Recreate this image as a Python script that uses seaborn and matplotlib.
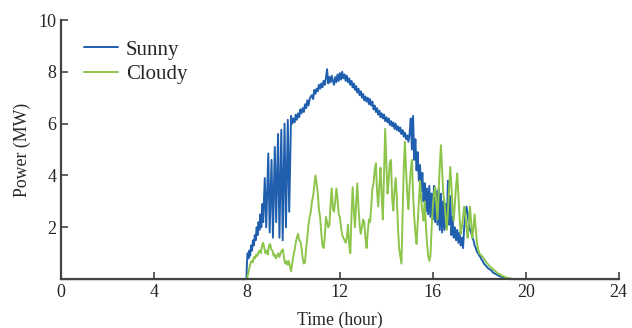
import pandas as pd
import matplotlib.pyplot as plt
import seaborn as sns

sns.set_style("ticks")
plt.rcParams["font.family"] = ["Liberation Serif", "DejaVu Serif"]

# data (hour, MW)
sunny_hours = [0, 7.98, 8.0, 8.03, 8.07, 8.1, 8.14, 8.18, 8.22, 8.26, 8.3, 8.34, 8.38, 8.42, 8.46,
               8.5, 8.54, 8.58, 8.62, 8.66, 8.7, 8.77, 8.83, 8.92, 8.98, 9.06, 9.12, 9.2, 9.26,
               9.34, 9.4, 9.48, 9.54, 9.62, 9.68, 9.76, 9.82, 9.9, 9.95,
               10.0, 10.05, 10.1, 10.15, 10.2, 10.25, 10.3, 10.35, 10.4, 10.45, 10.5, 10.55,
               10.6, 10.65, 10.7, 10.75, 10.8, 10.85, 10.9, 10.95, 11.0, 11.05, 11.1, 11.15,
               11.2, 11.25, 11.3, 11.35, 11.4, 11.45, 11.5, 11.55, 11.6, 11.65, 11.7, 11.75,
               11.8, 11.85, 11.9, 11.95, 12.0, 12.05, 12.1, 12.15, 12.2, 12.25, 12.3, 12.35,
               12.4, 12.45, 12.5, 12.55, 12.6, 12.65, 12.7, 12.75, 12.8, 12.85, 12.9, 12.95,
               13.0, 13.05, 13.1, 13.15, 13.2, 13.25, 13.3, 13.35, 13.4, 13.45, 13.5, 13.55,
               13.6, 13.65, 13.7, 13.75, 13.8, 13.85, 13.9, 13.95, 14.0, 14.05, 14.1, 14.15,
               14.2, 14.25, 14.3, 14.35, 14.4, 14.45, 14.5, 14.55, 14.6, 14.65, 14.7, 14.75,
               14.8, 14.85, 14.9, 14.95, 15.0, 15.05, 15.1, 15.15, 15.2, 15.25, 15.3, 15.35,
               15.4, 15.45, 15.5, 15.55, 15.6, 15.65, 15.7, 15.75, 15.8, 15.85, 15.9, 15.95,
               16.0, 16.05, 16.1, 16.15, 16.2, 16.25, 16.3, 16.35, 16.4, 16.45, 16.5, 16.55,
               16.6, 16.65, 16.7, 16.75, 16.8, 16.85, 16.9, 16.95, 17.0, 17.05, 17.1, 17.15,
               17.2, 17.25, 17.3, 17.35, 17.4, 17.45, 17.5, 17.55, 17.6, 17.65, 17.7, 17.75,
               17.8, 17.85, 17.9, 17.95, 18.0, 18.05, 18.1, 18.15, 18.2, 18.3, 18.4, 18.5,
               18.6, 18.7, 18.8, 18.9, 19.0, 19.1, 19.2, 19.3, 24]
sunny_mw = [0, 0, 0.6, 1.0, 0.8, 1.1, 0.9, 1.3, 1.1, 1.5, 1.3, 1.7, 1.5, 2.0, 1.7,
            2.2, 1.9, 2.5, 2.0, 2.9, 2.2, 3.9, 2.0, 4.85, 1.8, 4.6, 1.6, 5.1, 2.2,
            5.6, 1.6, 5.76, 1.5, 6.0, 2.0, 6.15, 2.6, 6.3, 6.0,
            6.2, 6.05, 6.35, 6.15, 6.4, 6.25, 6.55, 6.4, 6.6, 6.45, 6.75, 6.6,
            6.9, 6.7, 6.95, 7.05, 7.1, 6.95, 7.3, 7.15, 7.35, 7.25, 7.5, 7.35,
            7.55, 7.4, 7.65, 7.5, 7.75, 8.1, 7.55, 7.8, 7.6, 7.85, 7.65, 7.5,
            7.8, 7.6, 7.9, 7.65, 7.95, 7.7, 8.0, 7.75, 7.9, 7.65, 7.85, 7.6,
            7.75, 7.5, 7.65, 7.4, 7.55, 7.3, 7.45, 7.2, 7.35, 7.1, 7.25, 7.0,
            7.15, 6.9, 7.05, 6.85, 7.0, 6.75, 6.95, 6.7, 6.85, 6.55, 6.7, 6.45,
            6.6, 6.35, 6.5, 6.25, 6.4, 6.2, 6.35, 6.1, 6.25, 6.05, 6.2, 5.95,
            6.1, 5.9, 6.05, 5.8, 6.0, 5.75, 5.9, 5.7, 5.85, 5.6, 5.75, 5.5,
            5.65, 5.4, 5.55, 5.3, 5.6, 6.2, 5.0, 6.3, 4.6, 5.4, 4.2, 4.9,
            3.8, 4.4, 3.4, 4.1, 3.0, 3.7, 2.6, 3.5, 2.5, 3.6, 2.4, 3.3,
            2.3, 3.6, 2.2, 3.4, 2.1, 3.5, 1.9, 3.3, 1.8, 3.0, 1.9, 2.9,
            2.0, 3.8, 2.1, 3.2, 1.7, 2.4, 1.6, 2.0, 1.5, 1.9, 1.4, 1.8,
            1.3, 1.6, 1.2, 2.0, 2.5, 2.8, 2.5, 2.1, 1.9, 1.8, 1.6, 1.5,
            1.3, 1.2, 1.05, 1.0, 0.9, 0.85, 0.75, 0.7, 0.6, 0.5, 0.4, 0.35,
            0.25, 0.2, 0.15, 0.1, 0.08, 0.05, 0.03, 0.0, 0]

cloudy_hours = [0, 8.0, 8.05, 8.1, 8.15, 8.2, 8.25, 8.3, 8.35, 8.4, 8.45, 8.5, 8.55, 8.6,
                8.65, 8.7, 8.75, 8.8, 8.85, 8.9, 8.95, 9.0, 9.05, 9.1, 9.15, 9.2, 9.25, 9.3,
                9.35, 9.4, 9.45, 9.5, 9.55, 9.6, 9.65, 9.7, 9.75, 9.8, 9.85, 9.9, 9.95, 10.0,
                10.05, 10.1, 10.15, 10.2, 10.25, 10.3, 10.35, 10.4, 10.45, 10.5, 10.55, 10.6,
                10.65, 10.7, 10.75, 10.8, 10.85, 10.9, 10.95, 11.0, 11.05, 11.1, 11.15, 11.2,
                11.25, 11.3, 11.35, 11.4, 11.45, 11.5, 11.55, 11.6, 11.65, 11.7, 11.75, 11.8,
                11.85, 11.9, 11.95, 12.0, 12.05, 12.1, 12.15, 12.2, 12.25, 12.3, 12.35, 12.4,
                12.45, 12.5, 12.55, 12.6, 12.65, 12.7, 12.75, 12.8, 12.85, 12.9, 12.95, 13.0,
                13.05, 13.1, 13.15, 13.2, 13.25, 13.3, 13.35, 13.4, 13.45, 13.5, 13.55, 13.6,
                13.65, 13.7, 13.75, 13.8, 13.85, 13.9, 13.95, 14.0, 14.05, 14.1, 14.15, 14.2,
                14.25, 14.3, 14.35, 14.4, 14.45, 14.5, 14.55, 14.6, 14.65, 14.7, 14.75, 14.8,
                14.85, 14.9, 14.95, 15.0, 15.05, 15.1, 15.15, 15.2, 15.25, 15.3, 15.35, 15.4,
                15.45, 15.5, 15.55, 15.6, 15.65, 15.7, 15.75, 15.8, 15.85, 15.9, 15.95, 16.0,
                16.05, 16.1, 16.15, 16.2, 16.25, 16.3, 16.35, 16.4, 16.45, 16.5, 16.55, 16.6,
                16.65, 16.7, 16.75, 16.8, 16.85, 16.9, 16.95, 17.0, 17.05, 17.1, 17.15, 17.2,
                17.25, 17.3, 17.35, 17.4, 17.45, 17.5, 17.55, 17.6, 17.65, 17.7, 17.75, 17.8,
                17.85, 17.9, 17.95, 18.0, 18.1, 18.2, 18.3, 18.4, 18.5, 18.6, 18.7, 18.8,
                18.9, 19.0, 19.1, 19.2, 19.3, 19.4, 19.5, 24]
cloudy_mw = [0, 0, 0.2, 0.4, 0.6, 0.7, 0.65, 0.85, 0.8, 0.95, 0.9, 1.05, 1.1, 1.0,
             1.3, 1.4, 1.2, 1.0, 1.1, 0.95, 1.3, 1.35, 1.15, 1.1, 0.9, 0.95, 0.8, 0.9,
             1.0, 0.85, 1.0, 1.1, 1.15, 0.8, 0.6, 0.7, 0.55, 0.7, 0.5, 0.3, 0.6, 0.9,
             1.1, 1.4, 1.6, 1.75, 1.5, 1.45, 1.2, 0.8, 0.6, 0.65, 1.2, 1.6,
             2.1, 2.4, 2.6, 3.0, 3.2, 3.6, 4.0, 3.7, 3.3, 2.7, 2.4, 1.8,
             1.3, 1.2, 1.6, 2.4, 2.2, 2.0, 2.1, 2.9, 3.5, 2.7, 2.6, 3.0,
             3.5, 3.1, 2.5, 2.4, 2.0, 1.7, 1.6, 1.5, 1.4, 1.6, 2.1, 1.3,
             1.0, 2.4, 3.55, 2.7, 2.0, 2.9, 3.7, 2.8, 2.1, 1.75, 2.0, 2.3,
             2.2, 1.6, 1.2, 1.8, 2.3, 2.2, 2.8, 3.5, 3.7, 4.2, 4.47, 3.4,
             2.8, 3.6, 4.3, 3.2, 2.3, 4.0, 5.8, 4.6, 3.3, 3.8, 4.5, 4.6,
             3.1, 2.65, 3.4, 3.9, 3.2, 2.0, 1.2, 0.9, 0.6, 2.5, 4.3, 5.3,
             4.2, 3.3, 2.7, 3.6, 4.2, 4.6, 3.3, 2.4, 1.8, 1.36, 2.2, 3.0,
             3.8, 3.1, 2.6, 2.26, 3.0, 2.1, 1.4, 0.9, 0.7, 0.9, 2.0, 2.8,
             3.3, 3.55, 2.9, 2.3, 3.4, 4.4, 5.17, 4.2, 3.3, 3.0, 2.4, 1.9,
             2.6, 3.5, 4.33, 3.6, 2.8, 2.26, 2.9, 3.6, 4.08, 3.2, 2.4, 1.75,
             2.0, 2.4, 2.8, 2.5, 2.0, 1.6, 2.2, 2.8, 2.2, 1.6, 2.0, 2.5,
             1.9, 1.4, 1.15, 1.0, 0.9, 0.8, 0.65, 0.55, 0.45, 0.38, 0.3, 0.22,
             0.18, 0.12, 0.08, 0.05, 0.03, 0.01, 0, 0]

sunny = pd.DataFrame({"hour": sunny_hours, "mw": sunny_mw, "day": "Sunny"})
cloudy = pd.DataFrame({"hour": cloudy_hours, "mw": cloudy_mw, "day": "Cloudy"})
df = pd.concat([sunny, cloudy], ignore_index=True)

fig = plt.figure(figsize=(6.32, 3.28), dpi=100)
ax = fig.add_axes([0.0965, 0.149, 0.8825, 0.79])
sns.lineplot(data=df, x="hour", y="mw", hue="day", sort=False, estimator=None,
             palette={"Sunny": "#1f5fae", "Cloudy": "#8dc54b"}, linewidth=1.4,
             ax=ax, clip_on=False)

ax.set_xlim(0, 24)
ax.set_ylim(0, 10)
ax.set_xticks(range(0, 25, 4))
ax.set_yticks([2, 4, 6, 8, 10])
ax.tick_params(direction="in", length=5, width=1.2, labelsize=13, color="#444444")
ax.set_xlabel("Time (hour)", fontsize=12.8, labelpad=8)
ax.set_ylabel("Power (MW)", fontsize=12.8, labelpad=5)
sns.despine(ax=ax)
for side in ["left", "bottom"]:
    ax.spines[side].set_linewidth(1.6)
    ax.spines[side].set_color("#444444")

ax.legend(loc="upper left", bbox_to_anchor=(0.027, 0.955), frameon=False, fontsize=15,
          handlelength=1.6, handletextpad=0.4, labelspacing=0.25, borderaxespad=0)

fig.savefig("out.png", dpi=100)
